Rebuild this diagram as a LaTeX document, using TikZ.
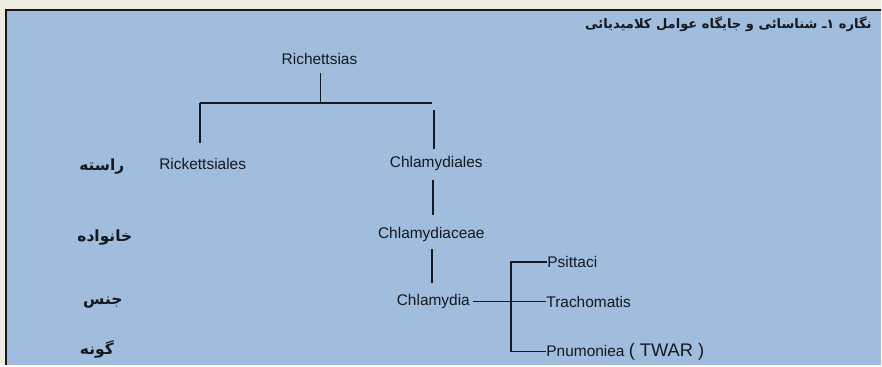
\documentclass[tikz,border=0pt]{standalone}
\usepackage{fontspec}
\setmainfont{Liberation Sans}
\newfontfamily\farsi[Script=Arabic]{DejaVu Sans}
\TeXXeTstate=1
\usepackage{xcolor}
\usetikzlibrary{positioning,calc}
\definecolor{paper}{RGB}{160,189,222}
\definecolor{cream}{RGB}{238,235,224}
\definecolor{ink}{RGB}{22,24,30}

\begin{document}
\begin{tikzpicture}[x=0.025cm, y=-0.025cm,
  taxon/.style={font=\fontsize{11}{13}\selectfont, text=ink, inner sep=0pt},
  rank/.style={font=\farsi\bfseries\fontsize{11}{12}\selectfont, text=ink},
  link/.style={ink, line width=1.3pt}]
% page and frame
\fill[cream] (0,0) rectangle (882,366);
\fill[paper] (6,10) rectangle (882,366);
\draw[ink, line width=2pt] (882,10) -- (6,10) -- (6,366);
\useasboundingbox (0,0) rectangle (882,366);
\node[font=\farsi\bfseries\fontsize{9.3}{12}\selectfont, text=ink, anchor=east] (title) at (878,24)
  {\beginR نگاره ۱ـ شناسائی و جایگاه عوامل کلامیدیائی\endR};

% ranks
\node[rank] (order) at (102,167) {\beginR راسته\endR};
\node[rank] (family) at (105,238) {\beginR خانواده\endR};
\node[rank] (genus) at (103,303) {\beginR جنس\endR};
\node[rank] (species) at (97,350) {\beginR گونه\endR};

% tree
\node[taxon] (rich) at (320,59) {Richettsias};
\node[taxon] (rick) at (203,164) {Rickettsiales};
\node[taxon] (chlo) at (437,164) {Chlamydiales};
\node[taxon] (chlf) at (432,235) {Chlamydiaceae};
\node[taxon] (chlg) at (434,302) {Chlamydia};
\node[taxon, anchor=west] (psit) at (548,262) {Psittaci};
\node[taxon, anchor=west] (trac) at (547,302) {Trachomatis};
\node[taxon, anchor=west] (pneu) at (547,352) {Pnumoniea {\fontsize{13}{15}\selectfont( TWAR )}};

\coordinate (fork) at (321,103);
\coordinate (barL) at (200,103);
\coordinate (barR) at (433,103);
\coordinate (split) at (512,302);

\draw[link] (321,73) -- (fork);
\draw[link] (barL) -- (barR);
\draw[link] (barL) -- (200,143);
\draw[link] (435,110) -- (435,149);
\draw[link, shorten <=6pt, shorten >=9pt] (chlo.south -| 434,0) -- (chlf.north -| 434,0);
\draw[link, shorten <=5pt, shorten >=8pt] (chlf.south -| 433,0) -- (chlg.north -| 433,0);
\draw[link, shorten <=2pt] (chlg.east) -- (trac.west);
\draw[link] (psit.west) -| (split) |- (pneu.west);
\end{tikzpicture}
\end{document}
